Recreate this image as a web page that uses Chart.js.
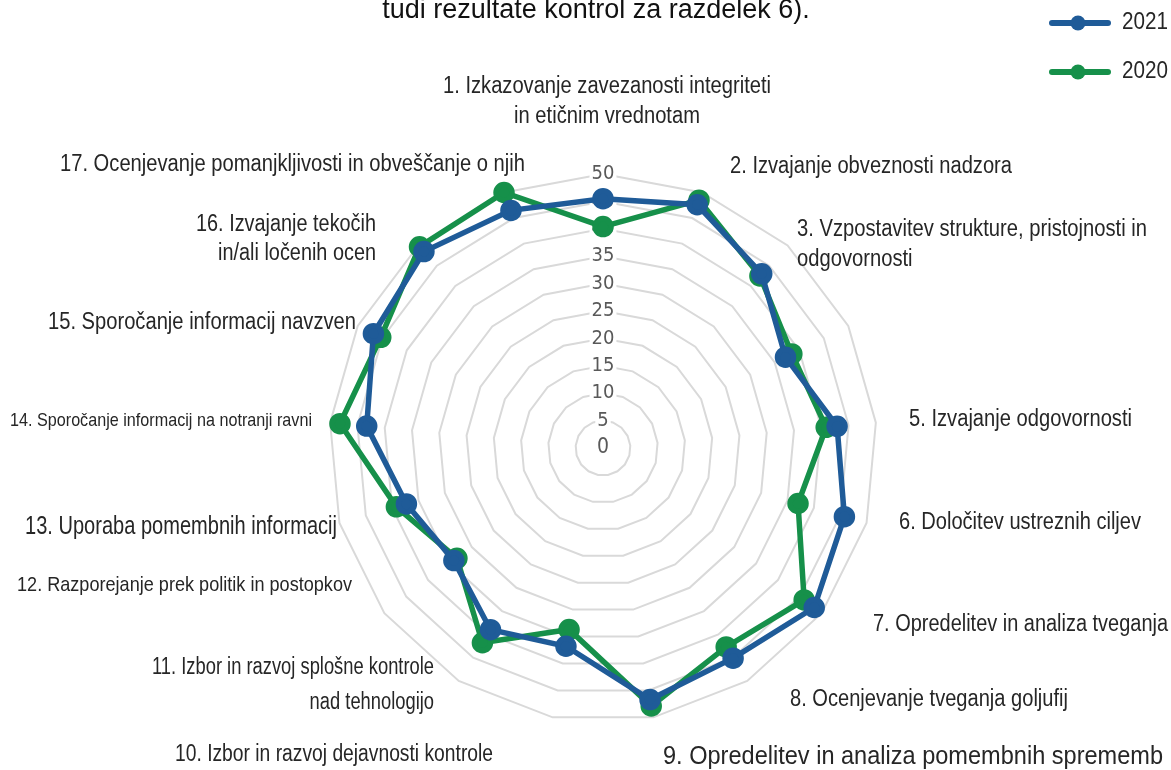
<!DOCTYPE html>
<html lang="sl">
<head>
  <meta charset="UTF-8" />
  <title>Notranje kontrole 2020 / 2021</title>
  <script src="https://cdn.jsdelivr.net/npm/chart.js"></script>
  <style>
    body {
      margin: 0;
      background: #fff;
    }
    .wrap {
      width: 1171px;
      height: 770px;
      position: relative;
    }
  </style>
</head>
<body>
  <div class="wrap">
    <canvas id="radar"></canvas>
  </div>

  <script>
    // data
    const categories = [
      ['1. Izkazovanje zavezanosti integriteti', 'in etičnim vrednotam'],
      '2. Izvajanje obveznosti nadzora',
      ['3. Vzpostavitev strukture, pristojnosti in', 'odgovornosti'],
      '',
      '5. Izvajanje odgovornosti',
      '6. Določitev ustreznih ciljev',
      '7. Opredelitev in analiza tveganja',
      '8. Ocenjevanje tveganja goljufij',
      '9. Opredelitev in analiza pomembnih sprememb',
      '10. Izbor in razvoj dejavnosti kontrole',
      ['11. Izbor in razvoj splošne kontrole', 'nad tehnologijo'],
      '12. Razporejanje prek politik in postopkov',
      '13. Uporaba pomembnih informacij',
      '14. Sporočanje informacij na notranji ravni',
      '15. Sporočanje informacij navzven',
      ['16. Izvajanje tekočih', 'in/ali ločenih ocen'],
      '17. Ocenjevanje pomanjkljivosti in obveščanje o njih'
    ];
    const values2021 = [45.5, 47.6, 43.0, 37.2, 42.9, 45.8, 48.3, 45.1, 46.7, 36.8, 39.0, 34.1, 37.3, 43.3, 46.8, 48.5, 46.5];
    const values2020 = [40.4, 48.5, 42.5, 38.5, 40.9, 37.0, 46.0, 42.7, 47.9, 33.7, 41.8, 33.4, 39.2, 48.2, 45.3, 49.7, 50.0];
    const seriesNames = ['2021', '2020'];
    const titleText = 'tudi rezultate kontrol za razdelek 6).';

    const SANS = "'Liberation Sans', Arial, sans-serif";
    const TICKFONT = "'DejaVu Sans Condensed', 'Liberation Sans', sans-serif";
    const BLUE = '#1f5b98';
    const GREEN = '#16904a';

    // where each category label sits: anchor, alignment, font size,
    // width of its longest line (text is squeezed to look like a narrow face)
    const labelLayout = [
      { x: 607, y: 87, align: 'center', size: 23, w: 328, gap: 30 },
      { x: 730, y: 167, align: 'left', size: 23, w: 282 },
      { x: 797, y: 230, align: 'left', size: 23, w: 350, gap: 30 },
      null,
      { x: 909, y: 420, align: 'left', size: 23, w: 223 },
      { x: 899, y: 523, align: 'left', size: 23, w: 242 },
      { x: 873, y: 625, align: 'left', size: 23, w: 295 },
      { x: 790, y: 700, align: 'left', size: 23, w: 278 },
      { x: 663, y: 757, align: 'left', size: 26, w: 500 },
      { x: 493, y: 755, align: 'right', size: 23, w: 318 },
      { x: 434, y: 668, align: 'right', size: 23, w: 282, gap: 35 },
      { x: 352, y: 585, align: 'right', size: 21, w: 335 },
      { x: 337, y: 527, align: 'right', size: 25, w: 312 },
      { x: 312, y: 421, align: 'right', size: 19, w: 302 },
      { x: 356, y: 323, align: 'right', size: 23, w: 308 },
      { x: 376, y: 225, align: 'right', size: 23, w: 180, gap: 29 },
      { x: 525, y: 165, align: 'right', size: 23, w: 465 }
    ];

    function narrowText(ctx, lines, pos) {
      ctx.font = pos.size + 'px ' + SANS;
      const widest = Math.max(...lines.map(t => ctx.measureText(t).width));
      const sx = widest > 0 ? pos.w / widest : 1;
      ctx.textAlign = pos.align;
      lines.forEach((t, k) => {
        ctx.save();
        ctx.translate(pos.x, pos.y + k * (pos.gap || 30));
        ctx.scale(sx, 1);
        ctx.fillText(t, 0, 0);
        ctx.restore();
      });
    }

    const decorPlugin = {
      id: 'decor',
      afterDraw(chart) {
        const ctx = chart.ctx;
        const r = chart.scales.r;
        ctx.save();

        // title, only its last line is in view
        ctx.fillStyle = '#111';
        ctx.font = '27px ' + SANS;
        ctx.textAlign = 'center';
        ctx.textBaseline = 'alphabetic';
        ctx.fillText(titleText, 596, 18);

        // the 0 tick Chart.js leaves out
        ctx.fillStyle = '#595959';
        ctx.font = '21px ' + TICKFONT;
        ctx.textBaseline = 'middle';
        ctx.fillText('0', r.xCenter, r.yCenter);

        // category labels
        ctx.fillStyle = '#262626';
        chart.data.labels.forEach((lbl, i) => {
          const pos = labelLayout[i];
          if (!pos) return;
          narrowText(ctx, Array.isArray(lbl) ? lbl : [lbl], pos);
        });

        // legend, line with a dot
        chart.data.datasets.forEach((ds, i) => {
          const y = 23 + i * 49;
          ctx.strokeStyle = ds.borderColor;
          ctx.lineWidth = 6;
          ctx.lineCap = 'round';
          ctx.beginPath();
          ctx.moveTo(1052, y);
          ctx.lineTo(1108, y);
          ctx.stroke();
          ctx.fillStyle = ds.pointBackgroundColor;
          ctx.beginPath();
          ctx.arc(1078, y, 7.5, 0, Math.PI * 2);
          ctx.fill();
          ctx.fillStyle = '#262626';
          narrowText(ctx, [ds.label], { x: 1122, y: y, align: 'left', size: 23, w: 46 });
        });
        ctx.restore();
      }
    };

    new Chart(document.getElementById('radar'), {
      type: 'radar',
      data: {
        labels: categories,
        datasets: [
          {
            label: seriesNames[0],
            data: values2021,
            borderColor: BLUE,
            backgroundColor: 'rgba(0,0,0,0)',
            pointBackgroundColor: BLUE,
            pointBorderColor: BLUE,
            borderWidth: 5.5,
            pointRadius: 8,
            pointHoverRadius: 9,
            fill: false
          },
          {
            label: seriesNames[1],
            data: values2020,
            borderColor: GREEN,
            backgroundColor: 'rgba(0,0,0,0)',
            pointBackgroundColor: GREEN,
            pointBorderColor: GREEN,
            borderWidth: 5.5,
            pointRadius: 8,
            pointHoverRadius: 9,
            fill: false
          }
        ]
      },
      options: {
        responsive: true,
        maintainAspectRatio: false,
        animation: false,
        layout: { padding: { top: 162, bottom: 36, left: 153, right: 118 } },
        plugins: {
          legend: { display: false },
          title: { display: false },
          tooltip: { enabled: true }
        },
        elements: { line: { tension: 0 } },
        scales: {
          r: {
            min: 0,
            max: 50,
            ticks: {
              stepSize: 5,
              color: '#595959',
              font: { family: TICKFONT, size: 20 },
              backdropColor: '#fff',
              backdropPadding: 2
            },
            grid: { color: '#d9d9d9', lineWidth: 2 },
            angleLines: { display: false },
            pointLabels: { display: false }
          }
        }
      },
      plugins: [decorPlugin]
    });
  </script>
</body>
</html>
